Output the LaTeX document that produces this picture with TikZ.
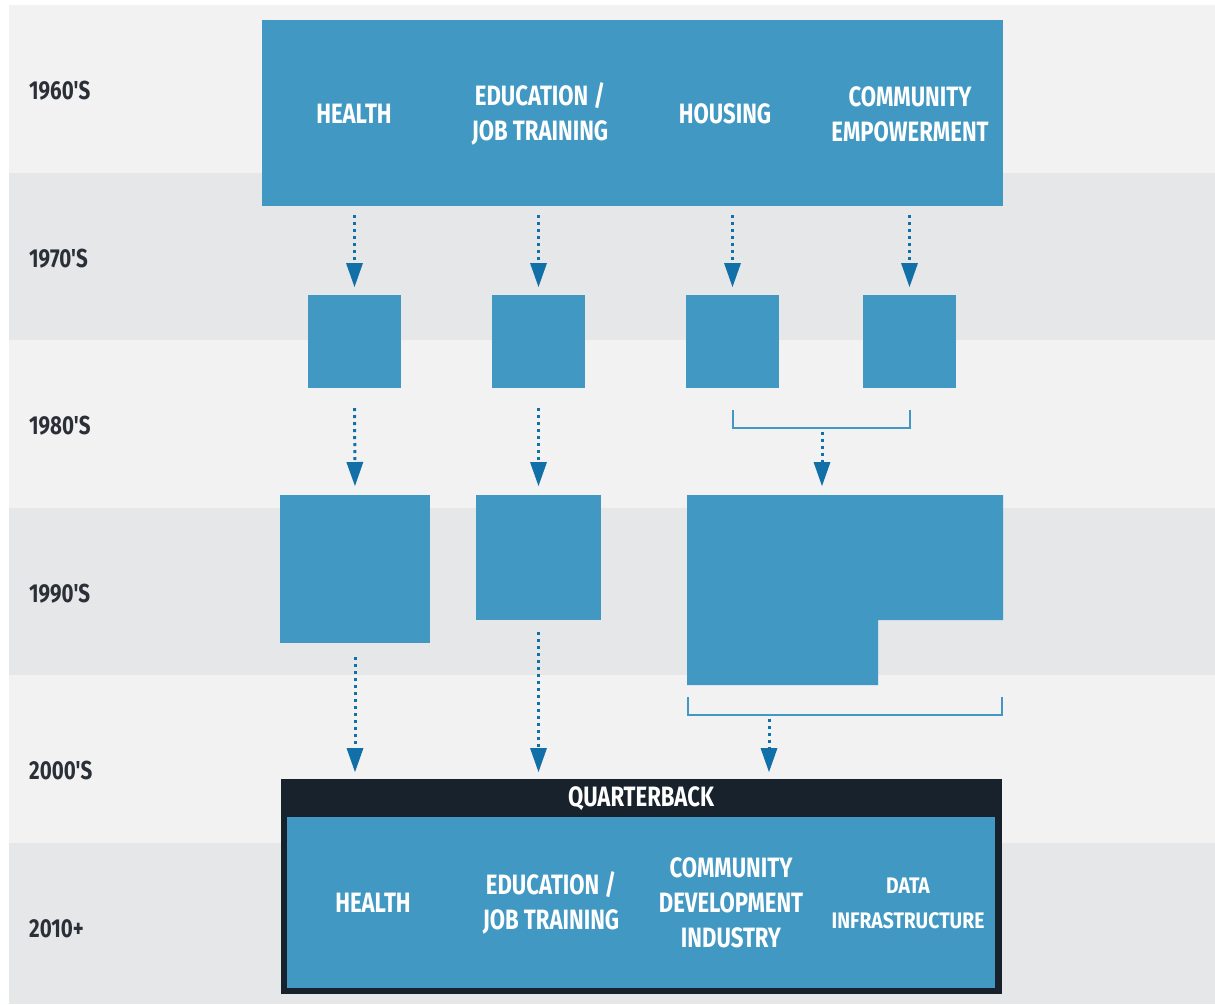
\documentclass[tikz,border=0pt]{standalone}
\usepackage{fontspec}
\newfontfamily\cond[FakeStretch=0.79]{Fira Sans}
\newfontfamily\condw[FakeStretch=0.86]{Fira Sans}
\usetikzlibrary{arrows.meta}
\definecolor{bgA}{HTML}{F2F2F3}
\definecolor{bgB}{HTML}{E6E7E9}
\definecolor{boxblue}{HTML}{4199C3}
\definecolor{arrblue}{HTML}{1170A8}
\definecolor{navy}{HTML}{17222C}
\definecolor{lbl}{HTML}{2B3038}
\tikzset{
  blk/.style={fill=boxblue, draw=none, inner sep=0pt, outer sep=0pt},
  wtxt/.style={text=white, font=\cond\bfseries\fontsize{28}{35}\selectfont, align=center, inner sep=0pt},
  stxt/.style={text=white, font=\condw\bfseries\fontsize{22.5}{35}\selectfont, align=center, inner sep=0pt},
  era/.style={text=lbl, font=\cond\bfseries\fontsize{26}{30}\selectfont, anchor=west, inner sep=0pt},
  arr/.style={draw=arrblue, line width=3pt, dash pattern=on 3pt off 4pt,
    -{Triangle[width=17pt,length=24pt,line width=0pt,fill=arrblue,sep=0pt]}},
  brk/.style={draw=boxblue, line width=2pt}
}
\begin{document}
\begin{tikzpicture}[x=1pt,y=-1pt]
\useasboundingbox (0,0) rectangle (1215,1004);
\fill[white] (0,0) rectangle (1215,1004);
% bands
\fill[bgA] (9,5) rectangle (1215,173);
\fill[bgB] (9,173) rectangle (1215,340);
\fill[bgA] (9,340) rectangle (1215,508);
\fill[bgB] (9,508) rectangle (1215,675);
\fill[bgA] (9,675) rectangle (1215,843);
\fill[bgB] (9,843) rectangle (1215,1004);
% era labels
\node[era] (e60) at (29,91) {1960'S};
\node[era] (e70) at (29,259) {1970'S};
\node[era] (e80) at (29,426) {1980'S};
\node[era] (e90) at (29,594) {1990'S};
\node[era] (e00) at (29,770) {2000'S};
\node[era] (e10) at (29,929) {2010+};
% 1960s box
\node[blk, minimum width=741pt, minimum height=186pt] (top) at (632.5,113) {};
\node[wtxt] (t1) at (354,114) {HEALTH};
\node[wtxt] (t2) at (540,114) {EDUCATION /\\JOB TRAINING};
\node[wtxt] (t3) at (725,114) {HOUSING};
\node[wtxt] (t4) at (910,114) {COMMUNITY\\EMPOWERMENT};
% 1970s boxes
\node[blk, minimum width=93pt, minimum height=93pt] (h70) at (354.5,341.5) {};
\node[blk, minimum width=93pt, minimum height=93pt] (ed70) at (538.5,341.5) {};
\node[blk, minimum width=93pt, minimum height=93pt] (hs70) at (732.5,341.5) {};
\node[blk, minimum width=93pt, minimum height=93pt] (ce70) at (909.5,341.5) {};
% arrows 60s -> 70s
\draw[arr, shorten <=9pt, shorten >=8pt] (top.south -| h70.north) -- (h70.north);
\draw[arr, shorten <=9pt, shorten >=8pt] (top.south -| ed70.north) -- (ed70.north);
\draw[arr, shorten <=9pt, shorten >=8pt] (top.south -| hs70.north) -- (hs70.north);
\draw[arr, shorten <=9pt, shorten >=8pt] (top.south -| ce70.north) -- (ce70.north);
% 1990s boxes
\node[blk, minimum width=150pt, minimum height=148pt] (h90) at (355,569) {};
\node[blk, minimum width=125pt, minimum height=125pt] (ed90) at (538.5,557.5) {};
\fill[boxblue] (687,495) -- (1003,495) -- (1003,620) -- (878,620) -- (878,685) -- (687,685) -- cycle;
\coordinate (cd90) at (845,495);
% arrows 70s -> 90s
\draw[arr, shorten <=20pt, shorten >=9pt] (h70.south) -- (h90.north);
\draw[arr, shorten <=20pt, shorten >=9pt] (ed70.south) -- (ed90.north);
% bracket 1
\draw[brk] (hs70.south |- 0,410) -- (hs70.south |- 0,428) -- (ce70.south |- 0,428) -- (ce70.south |- 0,410);
\coordinate (b1) at (822,428);
\draw[arr, shorten <=4pt, shorten >=9pt] (b1) -- (b1 |- cd90);
% quarterback
\node[fill=navy, minimum width=721pt, minimum height=215pt, inner sep=0pt, outer sep=0pt] (qb) at (641.5,886.5) {};
\node[blk, minimum width=708pt, minimum height=171pt] (qbi) at (641,902.5) {};
\node[wtxt] (qbt) at (641,799) {QUARTERBACK};
\node[wtxt] (q1) at (373,903) {HEALTH};
\node[wtxt] (q2) at (551,903) {EDUCATION /\\JOB TRAINING};
\node[wtxt] (q3) at (731,903) {COMMUNITY\\DEVELOPMENT\\INDUSTRY};
\node[stxt] (q4) at (908,903) {DATA\\INFRASTRUCTURE};
% arrows 90s -> QB
\draw[arr, shorten <=14pt, shorten >=7pt] (h90.south) -- (h90.south |- qb.north);
\draw[arr, shorten <=12pt, shorten >=7pt] (ed90.south) -- (ed90.south |- qb.north);
% bracket 2
\draw[brk] (688,697) -- (688,715) -- (1002,715) -- (1002,697);
\coordinate (b2) at (769,715);
\draw[arr, shorten <=4pt, shorten >=7pt] (b2) -- (b2 |- qb.north);
\end{tikzpicture}
\end{document}
